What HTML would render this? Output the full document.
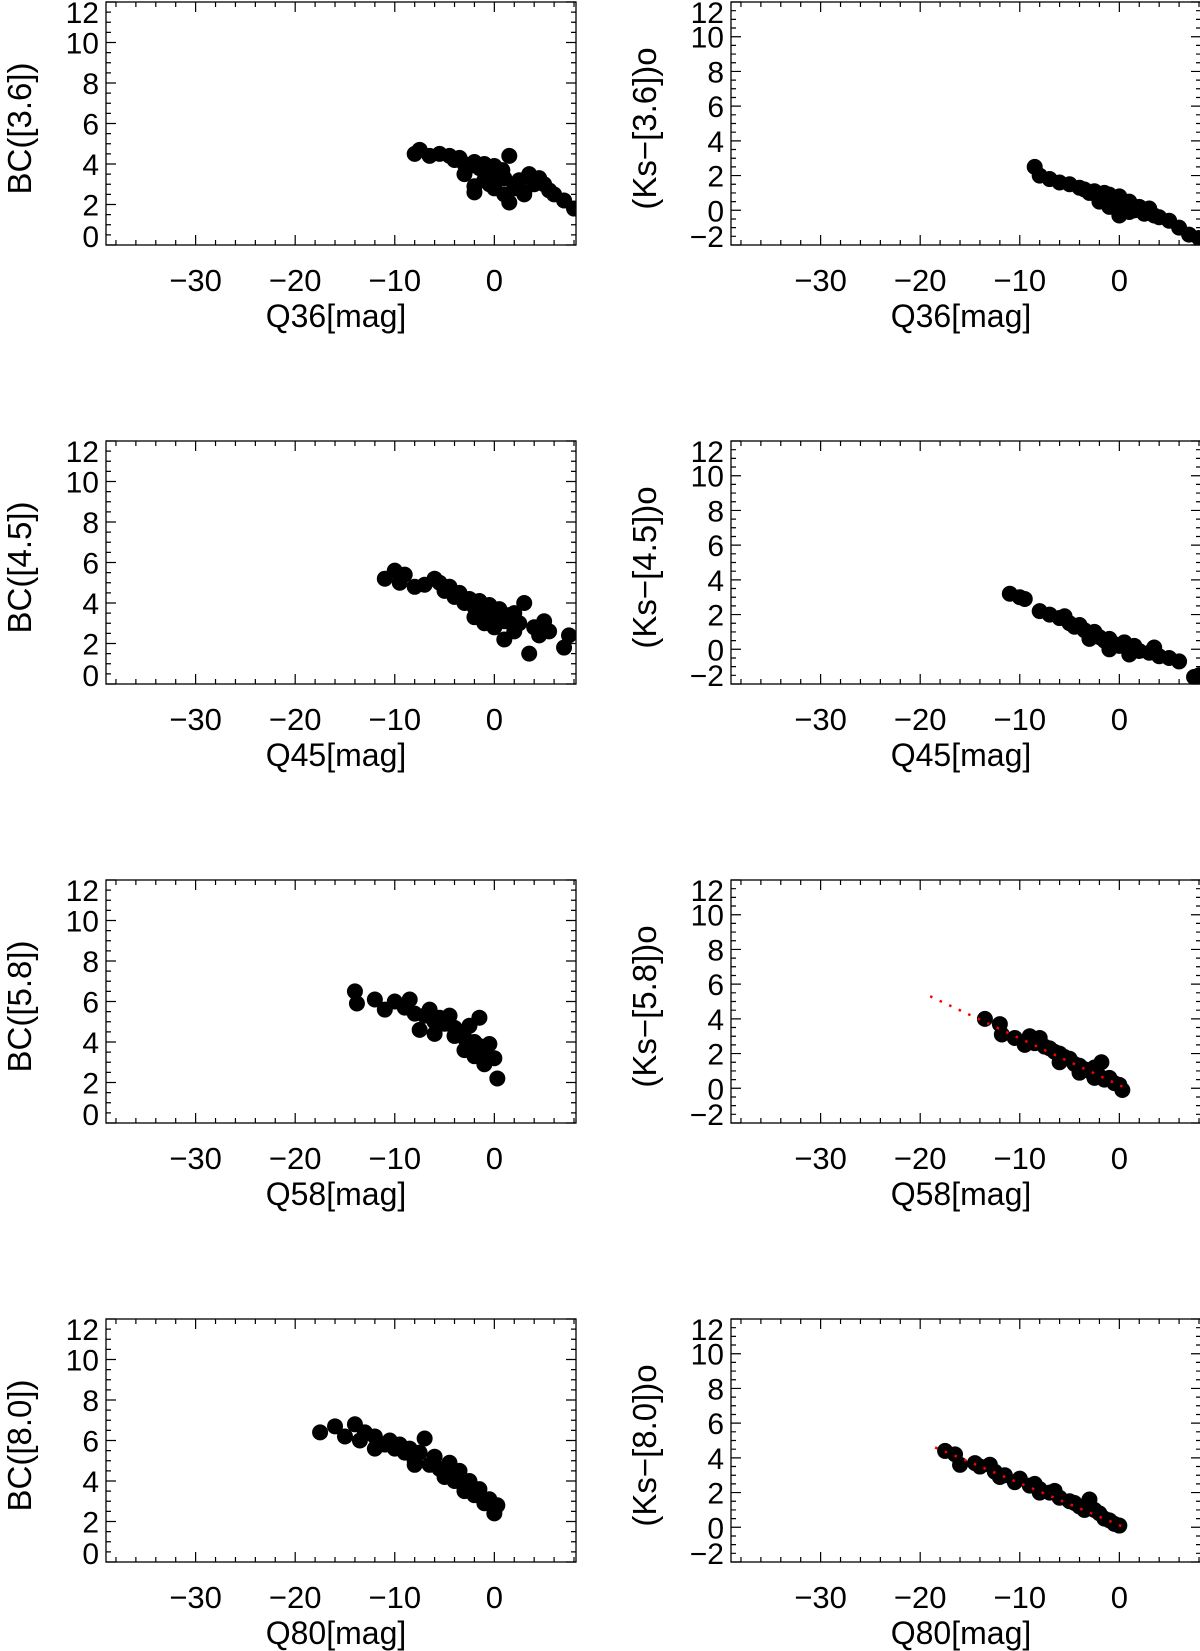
<!DOCTYPE html>
<html><head><meta charset="utf-8"><style>
html,body{margin:0;padding:0;background:#fff;}
svg{display:block;font-family:"Liberation Sans",sans-serif;}
</style></head><body>
<svg id="fig" width="1200" height="1651" viewBox="0 0 1200 1651" xmlns="http://www.w3.org/2000/svg"></svg>
<script>
// ---- data ----
const p1x=[-8,-7.5,-6.5,-5.5,-4.5,-4,-3.5,-3,-2.5,-2,-1.5,-1,-0.5,0,0.5,1,1.5,2,2.5,3,3.5,4,4.5,5,5.5,6,7,8,-3,-2,-1,0,1,-2,0,1.5,2,3,-0.5,0.8];
const p1y=[4.5,4.7,4.4,4.5,4.4,4.2,4.3,4.0,3.9,4.1,3.8,4.0,3.6,3.9,3.4,3.3,4.4,3.0,3.2,2.6,3.5,3.0,3.3,3.0,2.7,2.5,2.2,1.8,3.5,2.9,3.2,2.8,2.5,2.6,3.6,2.1,2.8,2.5,3.0,3.7];
const p2x=[-8.5,-8,-7,-6,-5,-4,-3.5,-3,-2.5,-2,-1.5,-1,-0.5,0,0.5,1,1.5,2,2.5,3,3.5,4,5,6,7,8,-1,-2,0,1];
const p2y=[2.5,2.0,1.8,1.6,1.5,1.3,1.2,1.0,1.1,0.8,1.0,0.9,0.6,0.8,0.3,0.5,0.0,0.2,-0.2,0.1,-0.3,-0.4,-0.6,-1.0,-1.4,-1.6,0.2,0.5,-0.3,-0.1];
const p3x=[-11,-10,-9.5,-9,-8,-7,-6,-5.5,-5,-4.5,-4,-3.5,-3,-2.5,-2,-1.5,-1,-0.5,0,0.5,1,1.5,2,2.5,3,3.5,4,4.5,5,5.5,7,7.5,-2,-1,0,1,2];
const p3y=[5.2,5.6,5.0,5.4,4.8,4.9,5.2,5.0,4.6,4.8,4.3,4.5,4.0,4.2,3.8,4.1,3.6,3.9,3.3,3.7,3.1,3.4,2.6,3.0,4.0,1.5,2.8,2.4,3.1,2.6,1.8,2.4,3.3,3.0,2.8,2.2,3.5];
const p4x=[-11,-10,-9.5,-8,-7,-6,-5.5,-5,-4.5,-4,-3.5,-3,-2.5,-2,-1.5,-1,-0.5,0,0.5,1,1.5,2,3,3.5,4,5,6,7.5,8,-3,-1,1];
const p4y=[3.2,3.0,2.9,2.2,2.0,1.8,1.9,1.5,1.3,1.4,1.1,0.9,1.0,0.7,0.5,0.6,0.3,0.2,0.4,0.0,0.2,-0.1,-0.2,0.1,-0.4,-0.5,-0.7,-1.6,-1.5,0.6,0.0,-0.3];
const p5x=[-14,-13.8,-12,-11,-10,-9,-8.5,-8,-7.5,-7,-6.5,-6,-5.5,-5,-4.5,-4,-3.5,-3,-2.5,-2,-1.5,-1.5,-1,-0.5,0,0.3,-2,-3,-4,-6,-1];
const p5y=[6.5,5.9,6.1,5.6,6.0,5.7,6.1,5.4,4.6,5.3,5.6,5.0,5.2,4.9,5.3,4.7,4.5,4.2,4.8,4.0,5.2,3.8,3.5,3.9,3.2,2.2,3.3,3.6,4.3,4.4,2.9];
const p6x=[-13.5,-12,-11.8,-10.5,-9.5,-9,-8.5,-8,-7.5,-7,-6.5,-6,-5.5,-5,-4.5,-4,-3.5,-3,-2.5,-2,-1.8,-1.5,-1,-0.5,0,0.3,-6,-4,-2.5];
const p6y=[4.0,3.7,3.1,2.9,2.5,3.0,2.6,2.9,2.4,2.3,2.1,2.0,1.8,1.7,1.4,1.3,1.1,1.0,1.2,0.7,1.5,0.5,0.6,0.3,0.2,-0.1,1.5,0.9,0.6];
const p7x=[-17.5,-16,-15,-14,-13.5,-13,-12,-11,-10.5,-10,-9.5,-9,-8.5,-8,-7.5,-7,-6.5,-6,-5.5,-5,-4.5,-4,-3.5,-3,-2.5,-2,-1.5,-1,-0.5,0,0.3,-12,-8,-5,-3];
const p7y=[6.4,6.7,6.2,6.8,6.0,6.4,6.2,5.8,6.0,5.6,5.8,5.4,5.6,5.0,5.4,6.1,4.8,5.2,4.6,4.4,4.9,4.0,4.5,3.7,4.0,3.3,3.6,2.9,3.1,2.4,2.8,5.6,4.8,4.2,3.5];
const p8x=[-17.5,-16.5,-16,-14.5,-14,-13,-12,-11.5,-10.5,-10,-9,-8.5,-8,-7,-6.5,-6,-5,-4.5,-4,-3,-2.5,-2,-1.5,-1,-0.5,0,-12.5,-8,-3.5];
const p8y=[4.4,4.2,3.6,3.7,3.5,3.6,2.9,3.0,2.6,2.8,2.4,2.5,2.2,2.0,2.1,1.7,1.5,1.4,1.2,1.6,1.0,0.8,0.5,0.4,0.2,0.1,3.2,2.0,1.0];
const fit6x=[-19,0.3];const fit6y=[5.3,0.1];
const fit8x=[-18.5,0.3];const fit8y=[4.6,0.05];
const xTicks=[-30,-20,-10,0];
const yTicksL=[0,2,4,6,8,10,12];
const yTicksR=[-2,0,2,4,6,8,10,12];
const xTitles=["Q36[mag]","Q45[mag]","Q58[mag]","Q80[mag]"];
const yTitlesL=["BC([3.6])","BC([4.5])","BC([5.8])","BC([8.0])"];
const yTitlesR=["(Ks\u2212[3.6])o","(Ks\u2212[4.5])o","(Ks\u2212[5.8])o","(Ks\u2212[8.0])o"];

const NS="http://www.w3.org/2000/svg";
const svg=document.getElementById('fig');
function mk(tag,attrs,parent){const e=document.createElementNS(NS,tag);for(const k in attrs)e.setAttribute(k,attrs[k]);(parent||svg).appendChild(e);return e;}

const XMIN=-39,XMAX=8.2,W=470,H=243;
function panel(left,top,ymin,ymax,yTicks,xs,ys,xt,yt,fx,fy,name){
  const g=mk('g',{});
  
  
  const sx=v=>left+(v-XMIN)/(XMAX-XMIN)*W;
  const sy=v=>top+H-(v-ymin)/(ymax-ymin)*H;
  const cp='cp'+name;
  const defs=mk('defs',{},g);const c=mk('clipPath',{id:cp},defs);mk('rect',{x:left,y:top,width:W,height:H},c);
  const pts=mk('g',{'clip-path':'url(#'+cp+')'},g);
  
  
  for(let i=0;i<xs.length;i++){
    const ci=mk('circle',{cx:sx(xs[i]),cy:sy(ys[i]),r:8,fill:'#000'},pts);
    
    
  }
  if(fx){
    const l=mk('line',{x1:sx(fx[0]),y1:sy(fy[0]),x2:sx(fx[1]),y2:sy(fy[1]),stroke:'#f00','stroke-width':2.5,'stroke-dasharray':'2.5 8'},g);
    
    
  }
  const box=mk('rect',{x:left,y:top,width:W,height:H,fill:'none',stroke:'#000','stroke-width':1.3},g);
  
  
  let d='';
  for(let v=-38;v<=8;v+=2){const x=sx(v);const L=(v%10===0)?10:5;d+=`M${x} ${top+H}v${-L}M${x} ${top}v${L}`;}
  for(let v=Math.ceil(ymin*2)/2;v<=ymax;v+=0.5){const y=sy(v);const L=(v%2===0)?10:5;d+=`M${left} ${y}h${L}M${left+W} ${y}h${-L}`;}
  mk('path',{d:d,stroke:'#000','stroke-width':1.2,fill:'none'},g);
  xTicks.forEach(v=>{const t=mk('text',{x:sx(v),y:top+H+46,'font-size':31,'text-anchor':'middle'},g);t.textContent=v<0?'\u2212'+(-v):v;
    });
  yTicks.forEach((v,i)=>{let y=sy(v)+11;if(i===0)y-=9;if(i===yTicks.length-1)y+=10;
    const t=mk('text',{x:left-7,y:y,'font-size':30,'text-anchor':'end'},g);t.textContent=v<0?'\u2212'+(-v):v;
    });
  const xtt=mk('text',{x:left+W/2-5,y:top+H+82,'font-size':32,'text-anchor':'middle'},g);xtt.textContent=xt;
  
  const cy=top+H/2+5;const cx=left-86+11;
  const ytt=mk('text',{x:cx,y:cy,'font-size':33,'text-anchor':'middle',transform:`rotate(-90 ${cx} ${cy})`},g);ytt.textContent=yt;
  
}
const tops=[2,441,880,1319];
const L=[[p1x,p1y],[p3x,p3y],[p5x,p5y],[p7x,p7y]];
const R=[[p2x,p2y],[p4x,p4y],[p6x,p6y],[p8x,p8y]];
const FR=[[null,null],[null,null],[fit6x,fit6y],[fit8x,fit8y]];
for(let r=0;r<4;r++){
  panel(106,tops[r],0,12,yTicksL,L[r][0],L[r][1],xTitles[r],yTitlesL[r],null,null,'bc-panel-'+(r+1));
  panel(731,tops[r],-2,12,yTicksR,R[r][0],R[r][1],xTitles[r],yTitlesR[r],FR[r][0],FR[r][1],'color-panel-'+(r+1));
}
</script>
</body></html>
